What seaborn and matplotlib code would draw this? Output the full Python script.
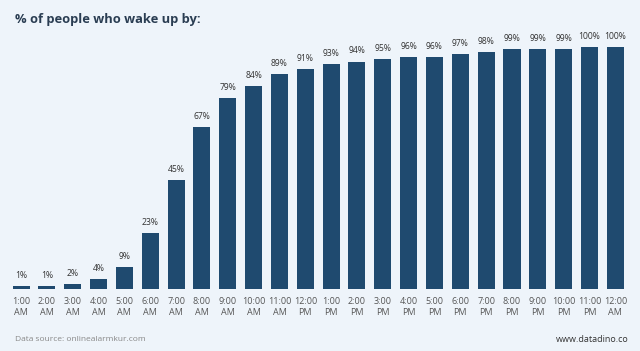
import pandas as pd
import seaborn as sns
import matplotlib
matplotlib.use("Agg")
import matplotlib.pyplot as plt

# Data
hours = ["1:00\nAM", "2:00\nAM", "3:00\nAM", "4:00\nAM", "5:00\nAM", "6:00\nAM",
         "7:00\nAM", "8:00\nAM", "9:00\nAM", "10:00\nAM", "11:00\nAM", "12:00\nPM",
         "1:00\nPM", "2:00\nPM", "3:00\nPM", "4:00\nPM", "5:00\nPM", "6:00\nPM",
         "7:00\nPM", "8:00\nPM", "9:00\nPM", "10:00\nPM", "11:00\nPM", "12:00\nAM"]
pct_awake = [1, 1, 2, 4, 9, 23, 45, 67, 79, 84, 89, 91,
             93, 94, 95, 96, 96, 97, 98, 99, 99, 99, 100, 100]

df = pd.DataFrame({"hour": hours, "pct": pct_awake})

bg = "#eef4fa"
bar_color = "#1f4a6f"

sns.set_style("white")
plt.rcParams['font.family'] = ['Open Sans', 'DejaVu Sans']

fig = plt.figure(figsize=(6.4, 3.51), dpi=100, facecolor=bg)
ax = fig.add_axes([0.0127, 0.177, 0.969, 0.689])
ax.set_facecolor(bg)

sns.barplot(data=df, x="hour", y="pct", color=bar_color, width=0.66,
            saturation=1, linewidth=0, ax=ax)

for i, v in enumerate(pct_awake):
    ax.text(i, v + 2.5, f"{v}%", ha="center", va="bottom", fontsize=6.2,
            color="#333333", clip_on=False)

ax.set_ylim(0, 100)
ax.set_xlim(-0.5, len(hours) - 0.5)
ax.set_xlabel("")
ax.set_ylabel("")
ax.set_yticks([])
ax.tick_params(axis="x", length=0, labelsize=6.5, labelcolor="#555555", pad=6)
for s in ax.spines.values():
    s.set_visible(False)

fig.text(0.023, 0.945, "% of people who wake up by:", fontsize=9.3,
         fontweight="bold", color="#2a3d52", va="center")
fig.text(0.023, 0.032, "Data source: onlinealarmkur.com", fontsize=6,
         color="#888888", va="center")
fig.text(0.982, 0.032, "www.datadino.co", fontsize=6.5,
         color="#333333", va="center", ha="right")

fig.savefig("out.png", dpi=100, facecolor=bg)
